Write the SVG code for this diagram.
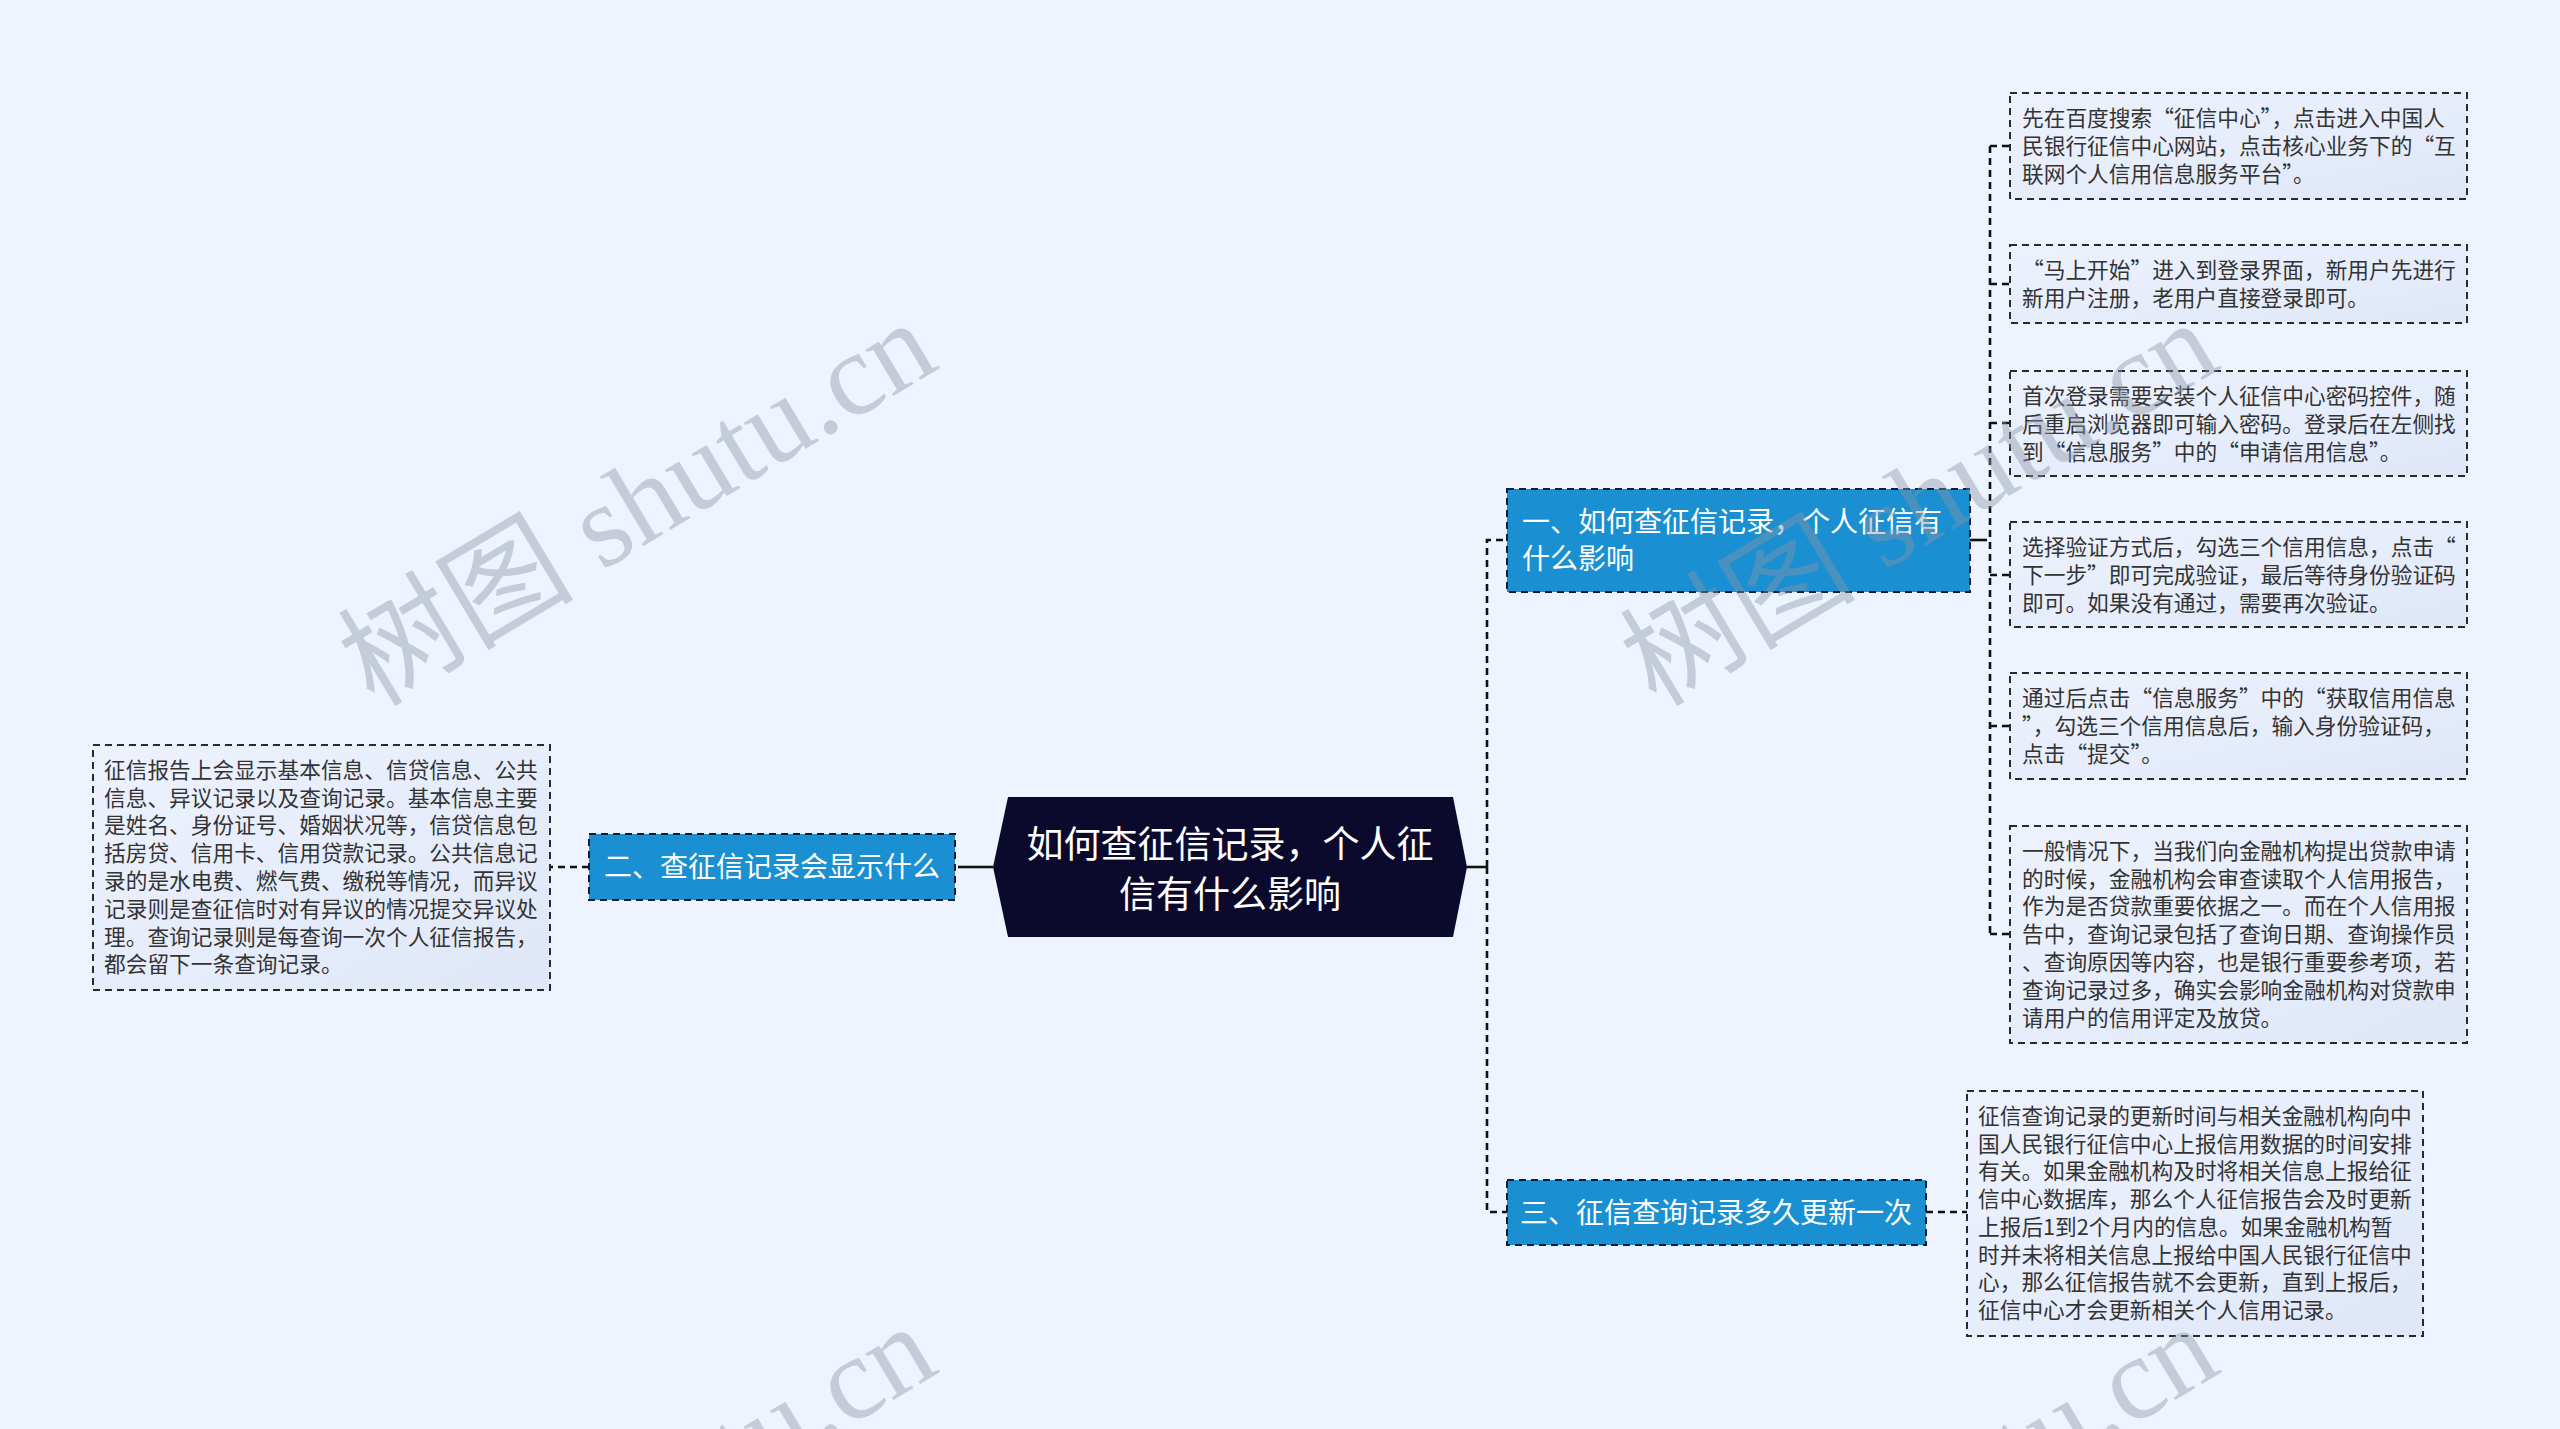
<svg xmlns="http://www.w3.org/2000/svg" width="2560" height="1429" viewBox="0 0 2560 1429">
<defs>
<linearGradient id="leafg" x1="0" y1="0" x2="1" y2="1">
<stop offset="0" stop-color="#edf2fd"/>
<stop offset="1" stop-color="#dfe7f8"/>
</linearGradient>
<style>
.bg{fill:#eef4fe}
.conn{fill:none;stroke:#111111;stroke-width:2.6;stroke-dasharray:7 5}
.stub{fill:none;stroke:#111111;stroke-width:2.6}
.leaf{fill:url(#leafg);stroke:#2a2a2a;stroke-width:2;stroke-dasharray:7 5}
.branch{fill:#1a8fd1;stroke:#0d1e3a;stroke-width:2;stroke-dasharray:7 5}
.center{fill:#0c0a2c}
.lt{font-family:"Noto Sans CJK SC","Noto Sans",sans-serif;font-size:21.7px;fill:#333333}
.bt{font-family:"Noto Sans CJK SC","Noto Sans",sans-serif;font-size:28px;fill:#ffffff}
.ct{font-family:"Noto Sans CJK SC","Noto Sans",sans-serif;font-size:37px;fill:#ffffff;text-anchor:middle}
.wm{font-family:"Liberation Serif","Noto Sans CJK SC",serif;font-size:118px;fill:#8a93a6;fill-opacity:0.42}
</style>
</defs>
<rect class="bg" x="0" y="0" width="2560" height="1429"/>

<g id="connectors">
<path class="conn" d="M1487 867 V540 H1507"/>
<path class="conn" d="M1487 867 V1212 H1507"/>
<path class="stub" d="M1467 867 H1487"/>
<path class="conn" d="M965 867 H955"/>
<path class="stub" d="M993 867 H965"/>
<path class="conn" d="M589 867 H551"/>
<path class="conn" d="M1926 1212 H1967"/>
<path class="stub" d="M1970 540 H1980"/>
<path class="conn" d="M1990 146 V934"/>
<path class="conn" d="M1980 540 H1990"/>
<path class="conn" d="M1990 146 H2010"/>
<path class="conn" d="M1990 284 H2010"/>
<path class="conn" d="M1990 423 H2010"/>
<path class="conn" d="M1990 575 H2010"/>
<path class="conn" d="M1990 726 H2010"/>
<path class="conn" d="M1990 934 H2010"/>
</g>

<g id="center">
<polygon class="center" points="993,867 1008,797 1453,797 1467,867 1453,937 1008,937"/>
<text class="ct" x="1230" y="858">如何查征信记录，个人征</text>
<text class="ct" x="1230" y="908">信有什么影响</text>
</g>

<g id="branch1">
<rect class="branch" x="1507" y="489" width="463" height="103"/>
<text class="bt" x="1522" y="532">一、如何查征信记录，个人征信有</text>
<text class="bt" x="1522" y="569">什么影响</text>
</g>

<g id="branch2">
<rect class="branch" x="589" y="834" width="366" height="66"/>
<text class="bt" x="772" y="877" text-anchor="middle">二、查征信记录会显示什么</text>
</g>

<g id="branch3">
<rect class="branch" x="1507" y="1180" width="419" height="65"/>
<text class="bt" x="1716" y="1223" text-anchor="middle">三、征信查询记录多久更新一次</text>
</g>

<g id="leaf1">
<rect class="leaf" x="2010" y="93" width="457" height="106"/>
<text class="lt" x="2022" y="126">先在百度搜索“征信中心”，点击进入中国人</text>
<text class="lt" x="2022" y="154">民银行征信中心网站，点击核心业务下的“互</text>
<text class="lt" x="2022" y="182">联网个人信用信息服务平台”。</text>
</g>

<g id="leaf2">
<rect class="leaf" x="2010" y="245" width="457" height="78"/>
<text class="lt" x="2022" y="278">“马上开始”进入到登录界面，新用户先进行</text>
<text class="lt" x="2022" y="306">新用户注册，老用户直接登录即可。</text>
</g>

<g id="leaf3">
<rect class="leaf" x="2010" y="371" width="457" height="105"/>
<text class="lt" x="2022" y="404">首次登录需要安装个人征信中心密码控件，随</text>
<text class="lt" x="2022" y="432">后重启浏览器即可输入密码。登录后在左侧找</text>
<text class="lt" x="2022" y="460">到“信息服务”中的“申请信用信息”。</text>
</g>

<g id="leaf4">
<rect class="leaf" x="2010" y="522" width="457" height="105"/>
<text class="lt" x="2022" y="555">选择验证方式后，勾选三个信用信息，点击“</text>
<text class="lt" x="2022" y="583">下一步”即可完成验证，最后等待身份验证码</text>
<text class="lt" x="2022" y="611">即可。如果没有通过，需要再次验证。</text>
</g>

<g id="leaf5">
<rect class="leaf" x="2010" y="673" width="457" height="106"/>
<text class="lt" x="2022" y="706">通过后点击“信息服务”中的“获取信用信息</text>
<text class="lt" x="2022" y="734">”，勾选三个信用信息后，输入身份验证码，</text>
<text class="lt" x="2022" y="762">点击“提交”。</text>
</g>

<g id="leaf6">
<rect class="leaf" x="2010" y="826" width="457" height="217"/>
<text class="lt" x="2022" y="859">一般情况下，当我们向金融机构提出贷款申请</text>
<text class="lt" x="2022" y="887">的时候，金融机构会审查读取个人信用报告，</text>
<text class="lt" x="2022" y="914">作为是否贷款重要依据之一。而在个人信用报</text>
<text class="lt" x="2022" y="942">告中，查询记录包括了查询日期、查询操作员</text>
<text class="lt" x="2022" y="970">、查询原因等内容，也是银行重要参考项，若</text>
<text class="lt" x="2022" y="998">查询记录过多，确实会影响金融机构对贷款申</text>
<text class="lt" x="2022" y="1026">请用户的信用评定及放贷。</text>
</g>

<g id="leaf7">
<rect class="leaf" x="93" y="745" width="457" height="245"/>
<text class="lt" x="104" y="778">征信报告上会显示基本信息、信贷信息、公共</text>
<text class="lt" x="104" y="806">信息、异议记录以及查询记录。基本信息主要</text>
<text class="lt" x="104" y="833">是姓名、身份证号、婚姻状况等，信贷信息包</text>
<text class="lt" x="104" y="861">括房贷、信用卡、信用贷款记录。公共信息记</text>
<text class="lt" x="104" y="889">录的是水电费、燃气费、缴税等情况，而异议</text>
<text class="lt" x="104" y="917">记录则是查征信时对有异议的情况提交异议处</text>
<text class="lt" x="104" y="945">理。查询记录则是每查询一次个人征信报告，</text>
<text class="lt" x="104" y="972">都会留下一条查询记录。</text>
</g>

<g id="leaf8">
<rect class="leaf" x="1967" y="1091" width="456" height="245"/>
<text class="lt" x="1978" y="1124">征信查询记录的更新时间与相关金融机构向中</text>
<text class="lt" x="1978" y="1152">国人民银行征信中心上报信用数据的时间安排</text>
<text class="lt" x="1978" y="1179">有关。如果金融机构及时将相关信息上报给征</text>
<text class="lt" x="1978" y="1207">信中心数据库，那么个人征信报告会及时更新</text>
<text class="lt" x="1978" y="1235">上报后1到2个月内的信息。如果金融机构暂</text>
<text class="lt" x="1978" y="1263">时并未将相关信息上报给中国人民银行征信中</text>
<text class="lt" x="1978" y="1290">心，那么征信报告就不会更新，直到上报后，</text>
<text class="lt" x="1978" y="1318">征信中心才会更新相关个人信用记录。</text>
</g>

<g id="watermarks">
<text class="wm" transform="translate(374 708) rotate(-31)">树图 shutu.cn</text>
<text class="wm" transform="translate(1656 708) rotate(-31)">树图 shutu.cn</text>
<text class="wm" transform="translate(374 1712) rotate(-31)">树图 shutu.cn</text>
<text class="wm" transform="translate(1656 1712) rotate(-31)">树图 shutu.cn</text>
</g>
</svg>
